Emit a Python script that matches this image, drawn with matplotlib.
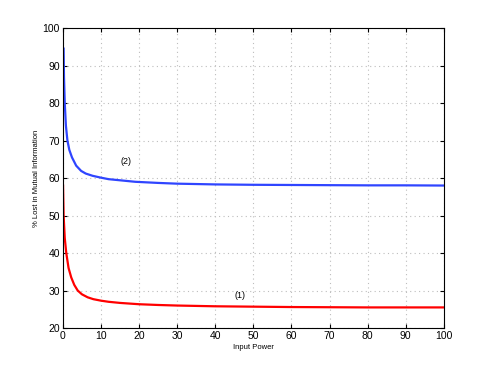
import matplotlib
matplotlib.use('Agg')
import matplotlib.pyplot as plt

plt.rcParams['font.family'] = ['Liberation Sans', 'DejaVu Sans']

# values
x1 = [0.05, 0.2, 0.5, 0.9, 1.5, 2.2, 3, 3.9, 5, 6.5, 8, 10, 12, 15, 20, 25, 30, 40, 50, 60, 70, 80, 90, 100]
red = [58, 50, 44, 40, 36, 33.5, 31.5, 30, 29, 28.2, 27.7, 27.3, 27.0, 26.7, 26.35, 26.15,
       26.0, 25.8, 25.7, 25.6, 25.55, 25.5, 25.5, 25.5]
x2 = [0.2, 0.3, 0.5, 0.8, 1.2, 1.7, 2.4, 3.5, 4.8, 6, 7.8, 10, 12, 15, 19, 25, 30, 40, 50, 60, 70, 80, 90, 100]
blue = [94.5, 87, 80, 74, 70, 67.5, 65.5, 63.3, 61.9, 61.2, 60.6, 60.1, 59.7, 59.4, 59.0,
        58.7, 58.5, 58.3, 58.2, 58.15, 58.1, 58.05, 58.05, 58.0]

fig = plt.figure(figsize=(4.91, 3.69), dpi=100)
ax = fig.add_axes([0.128, 0.111, 0.776, 0.813])

ax.plot(x1, red, color='#ff0000', lw=1.6)
ax.plot(x2, blue, color='#2f45ff', lw=1.6)

ax.text(16.5, 64.3, '(2)', fontsize=6.5, ha='center', va='center')
ax.text(46.5, 28.8, '(1)', fontsize=6.5, ha='center', va='center')

ax.set_xlim(0, 100)
ax.set_ylim(20, 100)
ax.set_xticks(range(0, 101, 10))
ax.set_yticks(range(20, 101, 10))
ax.grid(True, linestyle=(0, (1, 3)), color='#bdbdbd', lw=0.8)
ax.tick_params(direction='in', length=3, labelsize=7.5, top=True, right=True, pad=2)
for s in ax.spines.values():
    s.set_linewidth(0.8)

ax.set_xlabel('Input Power', fontsize=5.5, labelpad=2)
ax.set_ylabel('% Lost in Mutual Information', fontsize=5.5, labelpad=2)

fig.savefig('out.png', dpi=100)
